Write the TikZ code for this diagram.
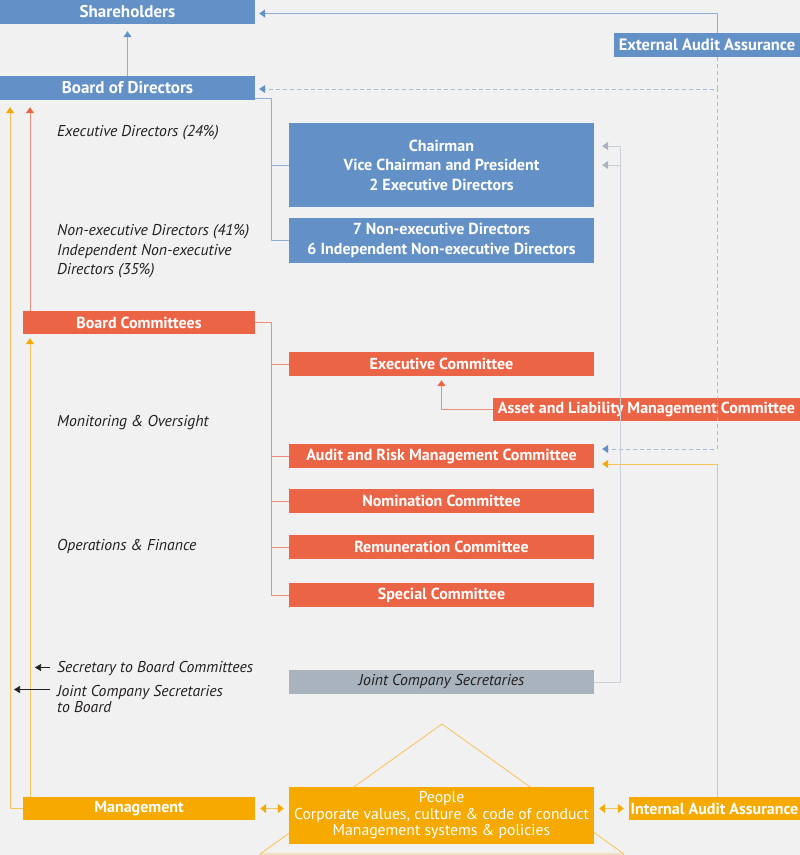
\documentclass[tikz,border=0pt]{standalone}
\usepackage{fontspec}
\setmainfont{PT Sans}
\usetikzlibrary{arrows.meta}
\definecolor{bgc}{HTML}{F1F1F1}
\definecolor{cblue}{HTML}{6391C7}
\definecolor{lblue}{HTML}{8EAED6}
\definecolor{dblue}{HTML}{A3BCDB}
\definecolor{cred}{HTML}{EC6446}
\definecolor{lred}{HTML}{EE8C7C}
\definecolor{cyel}{HTML}{F6AA00}
\definecolor{lyel}{HTML}{F7C25A}
\definecolor{cgray}{HTML}{A8B3BE}
\definecolor{lgray}{HTML}{C9D0D7}
\definecolor{ink}{HTML}{231F20}
\begin{document}
\begin{tikzpicture}[x=1pt,y=-1pt, line join=round, font=\fontsize{15.7}{16}\selectfont,
	box/.style={inner sep=0, minimum height=24pt, text=white, align=center, font=\fontsize{16}{19.5}\selectfont\bfseries},
	bbox/.style={box, fill=cblue}, rbox/.style={box, fill=cred}, ybox/.style={box, fill=cyel},
	lab/.style={inner sep=0, anchor=west, align=left, text=ink, font=\fontsize{15.7}{16}\selectfont\itshape},
	blink/.style={lblue, line width=.8pt, -{Triangle[width=8pt,length=6pt,color=cblue]}},
	dlink/.style={dblue, line width=.8pt, dash pattern=on 4pt off 3pt, -{Triangle[width=8pt,length=6pt,color=cblue]}},
	rlink/.style={lred, line width=.8pt, -{Triangle[width=8pt,length=6pt,color=cred]}},
	ylink/.style={lyel, line width=.8pt, -{Triangle[width=8pt,length=6pt,color=cyel]}},
	glink/.style={lgray, line width=.8pt, -{Triangle[width=8pt,length=6pt,color=cgray]}},
	klink/.style={ink, line width=.6pt, -{Triangle[width=7pt,length=6pt]}}]
	\useasboundingbox[fill=bgc] (0,0) rectangle (800,855);
	\coordinate (aud) at (717,0); \coordinate (bt) at (271,0); \coordinate (gt) at (620,0);
	\coordinate (yl) at (10,0); \coordinate (rl) at (30,0);
	% house behind the people box
	\draw[lyel, line width=.8pt] (260,854) -- (442,724) -- (624,854) -- cycle;
	% boxes
	\node[bbox, minimum width=255pt, font=\fontsize{17}{19}\selectfont\bfseries] (sh) at (127.5,12) {Shareholders};
	\node[bbox, minimum width=255pt, font=\fontsize{17}{19}\selectfont\bfseries] (bod) at (127.5,88) {Board of Directors};
	\node[bbox, minimum width=186pt, font=\fontsize{16.5}{19}\selectfont\bfseries] (ext) at (707,45) {External Audit Assurance};
	\node[bbox, minimum width=305pt, minimum height=84pt] (ch) at (441.5,165) {Chairman\\Vice Chairman and President\\2 Executive Directors};
	\node[bbox, minimum width=305pt, minimum height=45pt, font=\fontsize{16}{20}\selectfont\bfseries] (nx) at (441.5,240.5) {7 Non-executive Directors\\6 Independent Non-executive Directors};
	\node[rbox, minimum width=232pt, minimum height=23pt] (bc) at (139,322.5) {Board Committees};
	\node[rbox, minimum width=305pt] (ex) at (441.5,364) {Executive Committee};
	\node[rbox, minimum width=307pt, minimum height=23pt] (alm) at (646.5,409.5) {Asset and Liability Management Committee};
	\node[rbox, minimum width=305pt] (arm) at (441.5,456) {Audit and Risk Management Committee};
	\node[rbox, minimum width=305pt] (nom) at (441.5,501) {Nomination Committee};
	\node[rbox, minimum width=305pt] (rem) at (441.5,547) {Remuneration Committee};
	\node[rbox, minimum width=305pt] (sp) at (441.5,595) {Special Committee};
	\node[box, fill=cgray, text=ink, minimum width=305pt, font=\fontsize{15.7}{16}\selectfont\itshape] (js) at (441.5,682) {Joint Company Secretaries};
	\node[ybox, minimum width=232pt, minimum height=23pt] (mg) at (139,808.5) {Management};
	\node[ybox, minimum width=305pt, minimum height=57pt, font=\fontsize{15.7}{16.5}\selectfont] (pp) at (441.5,815.5) {People\\Corporate values, culture \& code of conduct\\Management systems \& policies};
	\node[ybox, minimum width=171pt, minimum height=23pt] (ia) at (714.5,808.5) {Internal Audit Assurance};
	% labels
	\node[lab] (exd) at (57,132.5) {Executive Directors (24\%)};
	\node[lab, font=\fontsize{15.7}{19.5}\selectfont\itshape] (ned) at (57,251.5) {Non-executive Directors (41\%)\\Independent Non-executive\\Directors (35\%)};
	\node[lab] (mo) at (57,422.5) {Monitoring \& Oversight};
	\node[lab] (of) at (57,546.5) {Operations \& Finance};
	\node[lab] (sbc) at (57,668.5) {Secretary to Board Committees};
	\node[lab] (jcb) at (57,698.5) {Joint Company Secretaries\\to Board};
	% connectors
	\draw[blink, shorten >=7pt] (bod.north) -- (sh.south);
	\draw[blink, shorten >=4pt] (aud |- ext.north) |- ([yshift=-1.5pt]sh.east);
	\draw[dlink, shorten >=4pt] (aud |- ext.south) |- ([yshift=-1pt]bod.east);
	\draw[dlink, shorten >=8pt] (aud |- bod.east) |- ([yshift=7pt]arm.east);
	\draw[lblue, line width=.8pt] ([yshift=2pt]bod.south east) -| (bt |- nx.west) -- (nx.west);
	\draw[lblue, line width=.8pt] (bt |- ch.west) -- (ch.west);
	\draw[lred, line width=.8pt] (bc.east) -| (bt |- sp.west) -- (sp.west);
	\foreach \n in {ex,arm,nom,rem} \draw[lred, line width=.8pt] (bt |- \n.west) -- (\n.west);
	\draw[rlink, shorten >=4pt] (alm.west) -| (ex.south);
	\draw[glink, shorten >=8pt] (js.east) -| (gt |- ch.east) -- (ch.east);
	\draw[glink, shorten >=8pt] (gt |- ch.east) |- ([yshift=19pt]ch.east);
	\draw[ylink, shorten >=8pt] (aud |- ia.north) |- ([yshift=-8pt]arm.east);
	\draw[ylink, shorten >=7pt] (mg.west) -| (yl |- bod.south);
	\draw[rlink, shorten >=7pt] (rl |- bc.north) -- (rl |- bod.south);
	\draw[ylink, shorten >=4pt] (rl |- mg.north) -- (rl |- bc.south);
	\draw[klink, shorten <=7pt, shorten >=5pt] ([yshift=1pt]sbc.west) -- ([yshift=1pt]rl |- sbc.west);
	\draw[klink, shorten <=7pt, shorten >=4pt] ([yshift=9pt]jcb.west) -- ([yshift=9pt]yl |- jcb.west);
	\draw[ylink, {Triangle[width=9pt,length=6pt,color=cyel]}-{Triangle[width=9pt,length=6pt,color=cyel]}, shorten <=5pt, shorten >=5pt] (mg.east) -- (mg.east -| pp.west);
	\draw[ylink, {Triangle[width=9pt,length=6pt,color=cyel]}-{Triangle[width=9pt,length=6pt,color=cyel]}, shorten <=5pt, shorten >=5pt] (ia.west) -- (ia.west -| pp.east);
\end{tikzpicture}
\end{document}
